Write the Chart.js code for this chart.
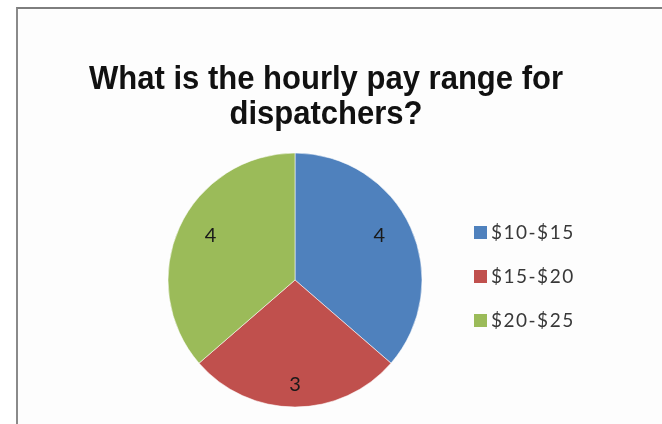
<!DOCTYPE html>
<html>
<head>
<meta charset="utf-8">
<script src="https://cdn.jsdelivr.net/npm/chart.js@4.4.1/dist/chart.umd.min.js"></script>
<style>
  html, body { margin: 0; padding: 0; background: #ffffff; }
  #wrap { position: relative; width: 662px; height: 424px; overflow: hidden; }
  #frame {
    position: absolute; left: 16px; top: 7px; right: -10px; bottom: -10px;
    border-left: 2px solid #8a8a8a; border-top: 2px solid #7e7e7e;
    background: #fdfdfd;
  }
  canvas { position: absolute; left: 0; top: 0; }
</style>
</head>
<body>
<div id="wrap">
  <div id="frame"></div>
  <canvas id="chart" width="662" height="424"></canvas>
</div>
<script>
// Survey answers: number of responses per hourly pay band
const titleLines = ['What is the hourly pay range for', 'dispatchers?'];
const categories = ['$10-$15', '$15-$20', '$20-$25'];
const counts = [4, 3, 4];
const sliceColors = ['#4f81bd', '#c0504d', '#9bbb59'];

// Two-line bold heading, squeezed horizontally to a condensed look
const headingPlugin = {
  id: 'heading',
  afterDraw(chart) {
    const ctx = chart.ctx;
    ctx.save();
    ctx.font = 'bold 34px "Liberation Sans", Arial, sans-serif';
    ctx.fillStyle = '#111111';
    ctx.textAlign = 'center';
    ctx.textBaseline = 'alphabetic';
    const targetWidth = 474;
    const sx = targetWidth / ctx.measureText(titleLines[0]).width;
    const baselines = [89, 124];
    titleLines.forEach((line, i) => {
      ctx.save();
      ctx.translate(326, baselines[i]);
      ctx.scale(sx, 1);
      ctx.fillText(line, 0, 0);
      ctx.restore();
    });
    ctx.restore();
  }
};

// Count written inside each slice, along the slice's middle angle
const sliceLabelPlugin = {
  id: 'sliceLabels',
  afterDatasetsDraw(chart) {
    const ctx = chart.ctx;
    const meta = chart.getDatasetMeta(0);
    const values = chart.data.datasets[0].data;
    ctx.save();
    ctx.font = '20px Lato, "Open Sans", sans-serif';
    ctx.fillStyle = '#1a1a1a';
    ctx.textAlign = 'center';
    ctx.textBaseline = 'middle';
    meta.data.forEach((arc, i) => {
      const p = arc.getProps(['x', 'y', 'startAngle', 'endAngle', 'outerRadius'], true);
      const mid = (p.startAngle + p.endAngle) / 2;
      const r = p.outerRadius * 0.83;
      ctx.fillText(String(values[i]), p.x + Math.cos(mid) * r * 0.88, p.y + Math.sin(mid) * r - 1);
    });
    ctx.restore();
  }
};

// Legend column to the right of the pie
const sideLegendPlugin = {
  id: 'sideLegend',
  afterDraw(chart) {
    const ctx = chart.ctx;
    const ds = chart.data.datasets[0];
    const rows = [232, 276, 320];
    ctx.save();
    ctx.font = '19px Lato, "Open Sans", sans-serif';
    ctx.letterSpacing = '1.5px';
    ctx.textAlign = 'left';
    ctx.textBaseline = 'middle';
    chart.data.labels.forEach((label, i) => {
      const y = rows[i];
      ctx.fillStyle = ds.backgroundColor[i];
      ctx.fillRect(474, y - 6, 13, 13);
      ctx.fillStyle = '#383838';
      ctx.fillText(label, 491, y + 1);
    });
    ctx.restore();
  }
};

new Chart(document.getElementById('chart'), {
  type: 'pie',
  data: {
    labels: categories,
    datasets: [{
      data: counts,
      backgroundColor: sliceColors,
      borderColor: 'rgba(255,255,255,0.55)',
      borderWidth: 1,
      radius: 127
    }]
  },
  options: {
    responsive: false,
    animation: false,
    devicePixelRatio: 1,
    layout: { padding: { left: 0, right: 72, top: 140, bottom: 4 } },
    plugins: {
      legend: { display: false },
      title: { display: false },
      tooltip: { enabled: false }
    }
  },
  plugins: [headingPlugin, sliceLabelPlugin, sideLegendPlugin]
});
</script>
</body>
</html>
